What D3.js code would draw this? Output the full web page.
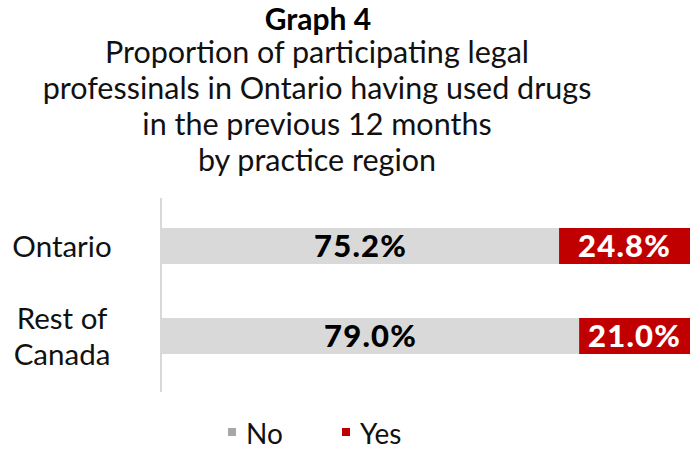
<!DOCTYPE html>
<html>
<head>
<meta charset="utf-8">
<script src="https://cdn.jsdelivr.net/npm/d3@7/dist/d3.min.js"></script>
<style>
  body { margin: 0; background: #fff; }
  svg { font-family: Lato, "Open Sans", sans-serif; }
</style>
</head>
<body>
<svg id="chart" width="690" height="449"></svg>
<script>
// data
var regions = ["Ontario", "Rest of Canada"],
  regionLines = [["Ontario"], ["Rest of", "Canada"]],
  noValues = [75.2, 79.0],
  yesValues = [24.8, 21.0],
  seriesNames = ["No", "Yes"],
  seriesColours = ["#d9d9d9", "#c00000"],
  titleLines = [
    "Proportion of participating legal",
    "professinals in Ontario having used drugs",
    "in the previous 12 months",
    "by practice region"
  ];

var svg = d3.select("#chart"),
  width = 690,
  height = 449;

var x = d3.scaleLinear().domain([0, 100]).range([162, 690]);
var y = d3.scaleBand().domain(regions).range([201, 381]).paddingInner(0.6).paddingOuter(0.3);

// title
svg.append("text")
  .attr("x", 318).attr("y", 30)
  .attr("text-anchor", "middle")
  .style("font-weight", "bold")
  .style("font-size", "30px")
  .text("Graph 4");

svg.selectAll(".subtitle")
  .data(titleLines)
  .enter()
  .append("text")
  .attr("class", "subtitle")
  .attr("x", 317)
  .attr("y", (d, i) => 63 + i * 36)
  .attr("text-anchor", "middle")
  .style("font-size", "30.5px")
  .style("fill", "#111")
  .text(d => d);

// stacked rows
var rows = regions.map((r, i) => ({
  region: r,
  parts: [
    { key: "No", x0: 0, x1: noValues[i], v: noValues[i] },
    { key: "Yes", x0: noValues[i], x1: noValues[i] + yesValues[i], v: yesValues[i] }
  ]
}));

var row = svg.selectAll(".row")
  .data(rows)
  .enter()
  .append("g")
  .attr("class", "row")
  .attr("transform", d => "translate(0," + y(d.region) + ")");

row.selectAll("rect")
  .data(d => d.parts)
  .enter()
  .append("rect")
  .attr("x", d => x(d.x0))
  .attr("width", d => x(d.x1) - x(d.x0))
  .attr("height", y.bandwidth())
  .attr("fill", d => seriesColours[seriesNames.indexOf(d.key)]);

row.selectAll(".val")
  .data(d => d.parts)
  .enter()
  .append("text")
  .attr("class", "val")
  .attr("x", d => (x(d.x0) + x(d.x1)) / 2)
  .attr("y", y.bandwidth() / 2)
  .attr("dy", "0.36em")
  .attr("text-anchor", "middle")
  .style("font-weight", "900")
  .style("font-size", "31px")
  .style("letter-spacing", "1.2px")
  .style("fill", d => d.key == "Yes" ? "#fff" : "#000")
  .text(d => d.v.toFixed(1) + "%");

// category labels
regions.forEach((r, i) => {
  var lines = regionLines[i];
  var cy = y(r) + y.bandwidth() / 2;
  lines.forEach((l, j) => {
    svg.append("text")
      .attr("x", 62)
      .attr("y", cy + (j - (lines.length - 1) / 2) * 36)
      .attr("dy", "0.36em")
      .attr("text-anchor", "middle")
      .style("font-size", "29.5px")
      .style("fill", "#111")
      .text(l);
  });
});

// axis line
svg.append("line")
  .attr("x1", 161).attr("x2", 161)
  .attr("y1", 198).attr("y2", 392)
  .attr("stroke", "#d9d9d9")
  .attr("stroke-width", 2);

// legend
var legendX = [228, 342];
seriesNames.forEach((s, i) => {
  svg.append("rect")
    .attr("x", legendX[i]).attr("y", 428)
    .attr("width", 8).attr("height", 8)
    .attr("fill", i == 0 ? "#a6a6a6" : seriesColours[i]);
  svg.append("text")
    .attr("x", legendX[i] + 18).attr("y", 444)
    .style("font-size", "28px")
    .style("fill", "#111")
    .text(s);
});
</script>
</body>
</html>
